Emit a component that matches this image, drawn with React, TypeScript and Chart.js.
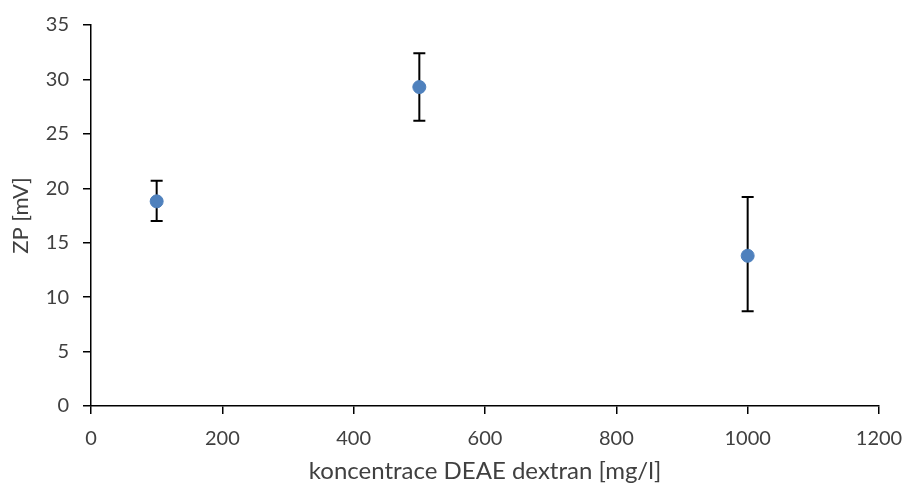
import React, { useEffect, useRef } from "react";
import { Chart, registerables } from "chart.js";

Chart.register(...registerables);

const concentrations = [100, 500, 1000];
const zpValues = [18.8, 29.3, 13.8];
const errorUpper = [20.7, 32.4, 19.2];
const errorLower = [17.0, 26.2, 8.7];
const xTicksMax = 1200;
const yTicksMax = 35;
const xTitle = "koncentrace DEAE dextran [mg/l]";
const yTitle = "ZP [mV]";

const FONT = "Lato, 'Open Sans', sans-serif";
const TEXT = "#404040";

const errorBarPlugin = {
  id: "errorBars",
  beforeDatasetsDraw(chart: any) {
    const ctx = chart.ctx;
    const xs = chart.scales.x;
    const ys = chart.scales.y;
    ctx.save();
    ctx.strokeStyle = "#000";
    ctx.lineWidth = 2;
    for (let i = 0; i < concentrations.length; i++) {
      const x = xs.getPixelForValue(concentrations[i]);
      const yt = ys.getPixelForValue(errorUpper[i]);
      const yb = ys.getPixelForValue(errorLower[i]);
      ctx.beginPath();
      ctx.moveTo(x, yt);
      ctx.lineTo(x, yb);
      ctx.moveTo(x - 6, yt);
      ctx.lineTo(x + 6, yt);
      ctx.moveTo(x - 6, yb);
      ctx.lineTo(x + 6, yb);
      ctx.stroke();
    }
    ctx.restore();
  },
};

export default function App() {
  const ref = useRef<HTMLCanvasElement | null>(null);
  useEffect(() => {
    if (!ref.current) return;
    const chart = new Chart(ref.current, {
      type: "scatter",
      data: {
        datasets: [
          {
            data: concentrations.map((c, i) => ({ x: c, y: zpValues[i] })),
            backgroundColor: "#4F81BD",
            borderColor: "#4F81BD",
            pointRadius: 6.5,
            pointHoverRadius: 6.5,
          },
        ],
      },
      options: {
        animation: false,
        responsive: false,
        maintainAspectRatio: false,
        layout: { padding: { left: 0, top: 25, right: 29, bottom: 0 } },
        plugins: {
          legend: { display: false },
          tooltip: { enabled: false },
        },
        scales: {
          x: {
            type: "linear",
            min: 0,
            max: xTicksMax,
            ticks: {
              stepSize: 200,
              color: TEXT,
              font: { family: FONT, size: 20 },
              padding: 13,
              maxRotation: 0,
              callback: (v: any) => String(v),
            },
            grid: {
              drawOnChartArea: false,
              drawTicks: true,
              tickLength: 8,
              color: "#000",
              lineWidth: 1.5,
            },
            border: { color: "#000", width: 1.5 },
            title: {
              display: true,
              text: xTitle,
              color: TEXT,
              font: { family: FONT, size: 24 },
              padding: { top: 0, bottom: 2 },
            },
            afterFit: (s: any) => {
              s.height = 82;
              s.paddingRight = 0;
              s.paddingLeft = 0;
            },
          },
          y: {
            min: 0,
            max: yTicksMax,
            ticks: {
              stepSize: 5,
              color: TEXT,
              font: { family: FONT, size: 20 },
              padding: 14,
              callback: (v: any) => String(v),
            },
            grid: {
              drawOnChartArea: false,
              drawTicks: true,
              tickLength: 8,
              color: "#000",
              lineWidth: 1.5,
            },
            border: { color: "#000", width: 1.5 },
            title: {
              display: true,
              text: yTitle,
              color: TEXT,
              font: { family: FONT, size: 22 },
              padding: { top: 8, bottom: 0 },
            },
            afterFit: (s: any) => {
              s.width = 91;
              s.paddingTop = 0;
              s.paddingBottom = 0;
            },
          },
        },
      },
      plugins: [errorBarPlugin],
    });
    return () => chart.destroy();
  }, []);
  return (
    <div style={{ position: "fixed", left: 0, top: 0, width: 908, height: 488, background: "#fff" }}>
      <canvas ref={ref} width={908} height={488} style={{ width: 908, height: 488 }} />
    </div>
  );
}
